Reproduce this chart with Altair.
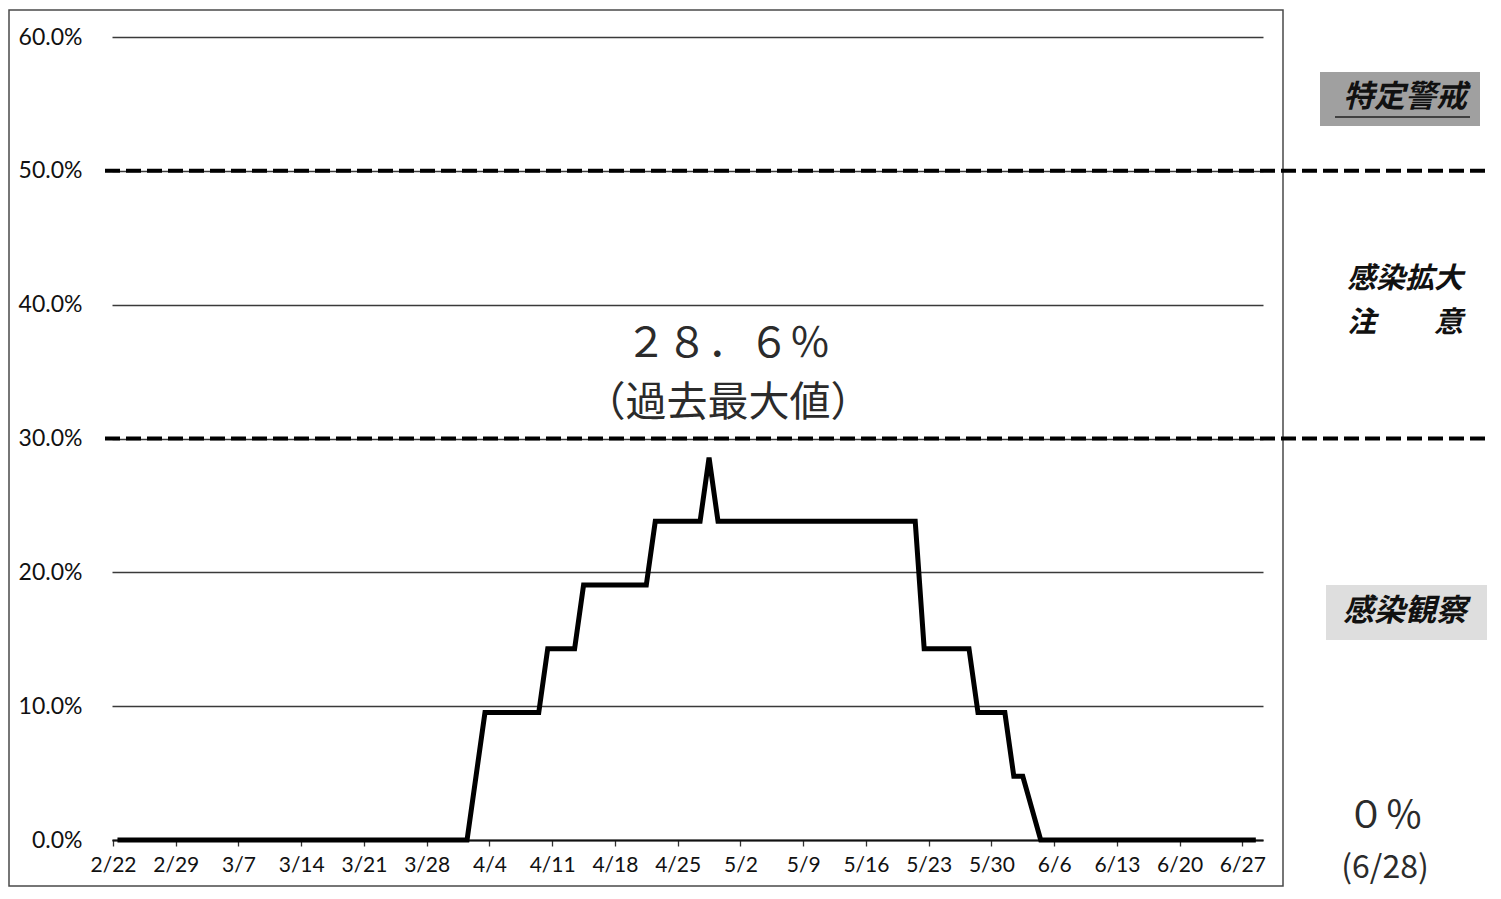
import altair as alt
import pandas as pd

# ---- data ----
first_day = "2020-02-22"
last_day = "2020-06-28"
rate = [
    0, 0, 0, 0, 0, 0, 0,                              # 2/22-2/28
    0, 0, 0, 0, 0, 0, 0,                              # 2/29-3/6
    0, 0, 0, 0, 0, 0, 0,                              # 3/7-3/13
    0, 0, 0, 0, 0, 0, 0,                              # 3/14-3/20
    0, 0, 0, 0, 0, 0, 0,                              # 3/21-3/27
    0, 0, 0, 0, 0, 4.76, 9.52,                        # 3/28-4/3
    9.52, 9.52, 9.52, 9.52, 9.52, 9.52, 14.29,        # 4/4-4/10
    14.29, 14.29, 14.29, 19.05, 19.05, 19.05, 19.05,  # 4/11-4/17
    19.05, 19.05, 19.05, 19.05, 23.81, 23.81, 23.81,  # 4/18-4/24
    23.81, 23.81, 23.81, 28.57, 23.81, 23.81, 23.81,  # 4/25-5/1
    23.81, 23.81, 23.81, 23.81, 23.81, 23.81, 23.81,  # 5/2-5/8
    23.81, 23.81, 23.81, 23.81, 23.81, 23.81, 23.81,  # 5/9-5/15
    23.81, 23.81, 23.81, 23.81, 23.81, 23.81, 14.29,  # 5/16-5/22
    14.29, 14.29, 14.29, 14.29, 14.29, 9.52, 9.52,    # 5/23-5/29
    9.52, 9.52, 4.76, 4.76, 2.38, 0, 0,               # 5/30-6/5
    0, 0, 0, 0, 0, 0, 0,                              # 6/6-6/12
    0, 0, 0, 0, 0, 0, 0,                              # 6/13-6/19
    0, 0, 0, 0, 0, 0, 0,                              # 6/20-6/26
    0, 0,                                             # 6/27-6/28
]
tick_labels = ["2/22", "2/29", "3/7", "3/14", "3/21", "3/28", "4/4", "4/11",
               "4/18", "4/25", "5/2", "5/9", "5/16", "5/23", "5/30", "6/6",
               "6/13", "6/20", "6/27"]
y_ticks = [0, 10, 20, 30, 40, 50, 60]
thresholds = [30, 50]

peak_date = "2020-04-28"
peak_lines = ["２８．６％", "（過去最大値）"]
peak_line_y = [36.95, 32.6]

side_labels = ["特定警戒", "感染拡大", "注　　意", "感染観察"]
side_y = [55.44, 41.9, 38.6, 17.04]
side_size = [31, 29, 29, 31]
box_top = [57.39, 19.05]
box_bottom = [53.35, 14.94]
box_fill = ["#a0a0a0", "#dedede"]
box_x = [1208, 1214]
box_x2 = [1368, 1375]

latest_lines = ["０％", "(6/28)"]
latest_y = [1.7, -2.1]
latest_size = [38, 32]

# ---- tables ----
df = pd.DataFrame({"date": pd.date_range(first_day, last_day, freq="D"), "rate": rate})
tick_values = [alt.DateTime(year=2020, month=int(t.split("/")[0]), date=int(t.split("/")[1]))
               for t in tick_labels]

W, H = 1151, 803
x_scale = alt.Scale(domain=[alt.DateTime(year=2020, month=2, date=21, hours=21, minutes=22),
                            alt.DateTime(year=2020, month=6, date=29, hours=7, minutes=12)])
y_scale = alt.Scale(domain=[0, 60], nice=False, zero=False)

JP = "Noto Sans CJK JP"
LAT = "Lato"

frame = alt.Chart(pd.DataFrame({"k": [0]})).mark_rect(
    fill="white", fillOpacity=0, stroke="#4a4a4a", strokeWidth=1.5
).encode(x=alt.value(-103), x2=alt.value(1171), y=alt.value(-27), y2=alt.value(849))

line = alt.Chart(df).transform_calculate(
    t="timeOffset('hours', toDate(datum.date), 12)"
).mark_line(color="#000000", strokeWidth=5, strokeJoin="miter").encode(
    x=alt.X("t:T", scale=x_scale, title=None,
            axis=alt.Axis(values=tick_values, format="%-m/%-d", formatType="time",
                          grid=False, domain=True, domainColor="#111", domainWidth=2.2,
                          ticks=True, tickSize=6, tickColor="#333", tickWidth=1.3,
                          labelFont=LAT, labelFontSize=21, labelColor="#111",
                          labelPadding=8, labelFlush=False)),
    y=alt.Y("rate:Q", scale=y_scale, title=None,
            axis=alt.Axis(values=y_ticks, labelExpr="format(datum.value/100, '.1%')",
                          grid=True, gridColor="#3a3a3a", gridWidth=1.3,
                          domain=False, ticks=False, labelFont=LAT, labelFontSize=23,
                          labelColor="#111", labelPadding=30)),
)

thr = alt.Chart(pd.DataFrame({"v": thresholds})).mark_rule(
    color="#000000", strokeWidth=4, strokeDash=[15, 6]
).encode(y=alt.Y("v:Q", scale=y_scale), x=alt.value(-7), x2=alt.value(1376))

peak = alt.Chart(pd.DataFrame({"date": [peak_date] * 2, "txt": peak_lines, "y": peak_line_y})
                 ).transform_calculate(
    t="timeOffset('hours', toDate(datum.date + 'T00:00:00'), 12)"
).mark_text(font=JP, fontSize=41, color="#2b2b2b", dx=19, align="center",
            baseline="middle").encode(
    x=alt.X("t:T", scale=x_scale), y=alt.Y("y:Q", scale=y_scale), text="txt:N")

boxes = alt.Chart(pd.DataFrame({"top": box_top, "bot": box_bottom, "fill": box_fill,
                                "x": box_x, "x2": box_x2})).mark_rect().encode(
    y=alt.Y("top:Q", scale=y_scale), y2="bot:Q",
    x=alt.X("x:Q", scale=None), x2="x2:Q",
    fill=alt.Fill("fill:N", scale=None))

underline = alt.Chart(pd.DataFrame({"v": [54.02]})).mark_rule(
    color="#222", strokeWidth=1.5
).encode(y=alt.Y("v:Q", scale=y_scale), x=alt.value(1223), x2=alt.value(1358))

side = alt.Chart(pd.DataFrame({"txt": side_labels, "y": side_y, "s": side_size})).mark_text(
    font=JP, fontStyle="italic", fontWeight="bold", color="#111",
    align="center", baseline="middle"
).encode(x=alt.value(1293), y=alt.Y("y:Q", scale=y_scale), text="txt:N",
         size=alt.Size("s:Q", scale=None))

latest = alt.Chart(pd.DataFrame({"txt": latest_lines, "y": latest_y, "s": latest_size})
                   ).mark_text(font=JP, color="#2b2b2b", align="center",
                               baseline="middle").encode(
    x=alt.value(1273), y=alt.Y("y:Q", scale=y_scale), text="txt:N",
    size=alt.Size("s:Q", scale=None))

chart = alt.layer(frame, boxes, thr, line, underline, peak, side, latest).properties(
    width=W, height=H,
    padding={"left": 104, "top": 29, "right": 225, "bottom": 48},
    autosize=alt.AutoSizeParams(type="none"),
    background="white",
).configure_view(stroke=None)

chart.save("out.html", embed_options={"renderer": "svg", "actions": False})
